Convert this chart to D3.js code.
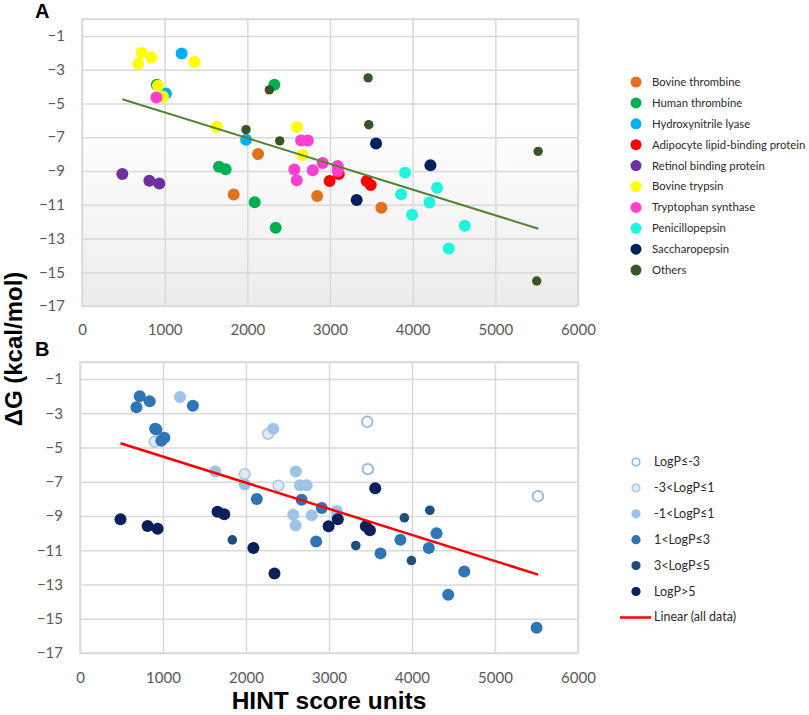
<!DOCTYPE html>
<html>
<head>
<meta charset="utf-8">
<script src="https://cdn.jsdelivr.net/npm/d3@7"></script>
<style>
  body { margin: 0; background: #fff; }
  svg { display: block; }
  .tick text { font-family: Lato, "Open Sans", sans-serif; fill: #595959; }
  .legend text { font-family: Lato, "Open Sans", sans-serif; fill: #2b2b2b; }
  .title { font-family: "Liberation Sans", Arial, sans-serif; font-weight: bold; fill: #000; }
</style>
</head>
<body>
<svg id="chart" width="809" height="715"></svg>
<script>
// tick values shared by both panels
const xTicks = [0, 1000, 2000, 3000, 4000, 5000, 6000];
const yTicks = [-17, -15, -13, -11, -9, -7, -5, -3, -1];

// panel A legend: protein groups
const proteinNames = [
  "Bovine thrombine", "Human thrombine", "Hydroxynitrile lyase",
  "Adipocyte lipid-binding protein", "Retinol binding protein", "Bovine trypsin",
  "Tryptophan synthase", "Penicillopepsin", "Saccharopepsin", "Others"
];
const proteinColors = [
  "#e2711d", "#00b050", "#00b0f0", "#ff0000", "#7030a0",
  "#ffff00", "#ff3fcf", "#1ef5dc", "#002060", "#375623"
];

// panel B legend: LogP classes
const logpLabels = ["LogP\u2264-3", "-3<LogP\u22641", "-1<LogP\u22641", "1<LogP\u22643", "3<LogP\u22645", "LogP>5"];
const logpFill = ["#ffffff", "#deebf7", "#9dc3e6", "#2e75b6", "#1f4e79", "#0a1f5c"];
const logpStroke = ["#8db6e2", "#a9c9ea", null, null, null, null];

// one entry per complex: HINT score, ΔG (kcal/mol), protein index, LogP class index
const hintScore = [
  2130, 1835, 2845, 3621,
  905, 2327, 1657, 1738, 2089, 2343,
  1205, 1016, 1985,
  2995, 3106, 3444, 3493,
  488, 815, 935,
  720, 680, 840, 1360, 920, 980, 1630, 2600, 2670,
  900, 2650, 2731, 2569, 2598, 2791, 2912, 3094, 3094,
  3908, 3860, 3993, 4203, 4296, 4630, 4436,
  4215, 3557, 3323,
  3461, 3469, 1984, 2392, 2266, 5518, 5501
];
const deltaG = [
  -8.0, -10.39, -10.49, -11.18,
  -3.9, -3.9, -8.75, -8.9, -10.86, -12.36,
  -2.05, -4.42, -7.15,
  -9.6, -9.18, -9.6, -9.83,
  -9.18, -9.58, -9.74,
  -2.0, -2.65, -2.3, -2.55, -3.95, -4.6, -6.4, -6.4, -8.05,
  -4.65, -7.2, -7.2, -8.92, -9.55, -8.96, -8.53, -8.7, -9.0,
  -9.1, -10.38, -11.6, -10.87, -10.0, -12.24, -13.6,
  -8.66, -7.38, -10.72,
  -3.49, -6.26, -6.55, -7.22, -4.2, -7.84, -15.52
];
const protein = [
  0, 0, 0, 0,
  1, 1, 1, 1, 1, 1,
  2, 2, 2,
  3, 3, 3, 3,
  4, 4, 4,
  5, 5, 5, 5, 5, 5, 5, 5, 5,
  6, 6, 6, 6, 6, 6, 6, 6, 6,
  7, 7, 7, 7, 7, 7, 7,
  8, 8, 8,
  9, 9, 9, 9, 9, 9, 9
];
const logpClass = [
  3, 4, 3, 3,
  3, 2, 5, 5, 5, 5,
  2, 3, 2,
  5, 5, 5, 5,
  5, 5, 5,
  3, 3, 3, 3, 3, 3, 2, 2, 3,
  1, 2, 2, 2, 2, 2, 3, 2, 2,
  4, 3, 4, 3, 3, 3, 3,
  4, 5, 4,
  0, 0, 1, 1, 1, 0, 3
];

// linear trend (all data), end points
const trendX = [488, 5520];
const trendY = [-4.75, -12.42];

const points = hintScore.map((x, i) => ({
  x, y: deltaG[i], protein: protein[i], logp: logpClass[i]
}));

const svg = d3.select("#chart");

const defs = svg.append("defs");
const grad = defs.append("linearGradient").attr("id", "bgA")
  .attr("x1", 0).attr("y1", 0).attr("x2", 0).attr("y2", 1);
grad.append("stop").attr("offset", "0%").attr("stop-color", "#ffffff");
grad.append("stop").attr("offset", "35%").attr("stop-color", "#ffffff");
grad.append("stop").attr("offset", "100%").attr("stop-color", "#ececec");

function drawFrame(x, y, bg, xPad) {
  const g = svg.append("g");
  const [l, r] = x.range();
  const [b, t] = y.range();
  g.append("rect").attr("x", l).attr("y", t).attr("width", r - l).attr("height", b - t)
    .attr("fill", bg);

  // gridlines
  g.append("g").attr("transform", `translate(${l},0)`)
    .call(d3.axisLeft(y).tickValues(yTicks.concat([0])).tickSize(-(r - l)).tickFormat(""))
    .call((s) => s.select(".domain").remove())
    .call((s) => s.selectAll("line").attr("stroke", "#d9d9d9").attr("stroke-width", 1.5));
  g.append("g").attr("transform", `translate(0,${b})`)
    .call(d3.axisBottom(x).tickValues(xTicks).tickSize(-(b - t)).tickFormat(""))
    .call((s) => s.select(".domain").remove())
    .call((s) => s.selectAll("line").attr("stroke", "#d9d9d9").attr("stroke-width", 1.5));

  // tick labels
  g.append("g").attr("transform", `translate(${l},0)`)
    .call(d3.axisLeft(y).tickValues(yTicks).tickSize(0).tickPadding(17))
    .call((s) => s.select(".domain").remove())
    .call((s) => s.selectAll("text").attr("font-size", 15));
  g.append("g").attr("transform", `translate(0,${b})`)
    .call(d3.axisBottom(x).tickValues(xTicks).tickSize(0).tickPadding(xPad).tickFormat(d3.format("d")))
    .call((s) => s.select(".domain").remove())
    .call((s) => s.selectAll("text").attr("font-size", 15));

  g.append("rect").attr("x", l).attr("y", t).attr("width", r - l).attr("height", b - t)
    .attr("fill", "none").attr("stroke", "#d9d9d9").attr("stroke-width", 1.5);
}

// ---- panel A ----
const xA = d3.scaleLinear().domain([0, 6000]).range([82, 578]);
const yA = d3.scaleLinear().domain([-17, 0]).range([306, 19]);
drawFrame(xA, yA, "url(#bgA)", 18);

svg.append("g").selectAll("circle")
  .data(d3.sort(points, (d) => d.protein))
  .join("circle")
  .attr("cx", (d) => xA(d.x))
  .attr("cy", (d) => yA(d.y))
  .attr("r", (d) => (d.protein === 9 ? 4.7 : 6))
  .attr("fill", (d) => proteinColors[d.protein]);

svg.append("line")
  .attr("x1", xA(trendX[0])).attr("y1", yA(trendY[0]))
  .attr("x2", xA(trendX[1])).attr("y2", yA(trendY[1]))
  .attr("stroke", "#548235").attr("stroke-width", 2);

const legA = svg.append("g").attr("class", "legend");
proteinNames.forEach((name, i) => {
  const yy = 82 + i * 20.9;
  legA.append("circle").attr("cx", 636).attr("cy", yy).attr("r", 5.5).attr("fill", proteinColors[i]);
  legA.append("text").attr("x", 652).attr("y", yy).attr("dy", "0.35em")
    .attr("font-size", 11.3).text(name);
});

// ---- panel B ----
const xB = d3.scaleLinear().domain([0, 6000]).range([80, 578]);
const yB = d3.scaleLinear().domain([-17, 0]).range([653, 362]);
drawFrame(xB, yB, "#ffffff", 19);

svg.append("g").selectAll("circle")
  .data(d3.sort(points, (d) => d.logp))
  .join("circle")
  .attr("cx", (d) => xB(d.x))
  .attr("cy", (d) => yB(d.y))
  .attr("r", (d) => (d.logp < 2 ? 5.3 : d.logp === 4 ? 4.8 : 6))
  .attr("fill", (d) => logpFill[d.logp])
  .attr("stroke", (d) => logpStroke[d.logp] || "none")
  .attr("stroke-width", 1.7);

svg.append("line")
  .attr("x1", xB(trendX[0])).attr("y1", yB(trendY[0]))
  .attr("x2", xB(trendX[1])).attr("y2", yB(trendY[1]))
  .attr("stroke", "#ff0000").attr("stroke-width", 2.5);

const legB = svg.append("g").attr("class", "legend");
logpLabels.forEach((name, i) => {
  const yy = 462 + i * 25.9;
  legB.append("circle").attr("cx", 636).attr("cy", yy).attr("r", i < 2 ? 3.8 : 4.6)
    .attr("fill", logpFill[i])
    .attr("stroke", logpStroke[i] || "none").attr("stroke-width", 1.6);
  legB.append("text").attr("x", 654).attr("y", yy).attr("dy", "0.35em")
    .attr("font-size", 12.5).text(name);
});
legB.append("line").attr("x1", 620).attr("x2", 651).attr("y1", 617.5).attr("y2", 617.5)
  .attr("stroke", "#ff0000").attr("stroke-width", 2.5);
legB.append("text").attr("x", 654).attr("y", 617).attr("dy", "0.35em")
  .attr("font-size", 12.5).text("Linear (all data)");

// ---- titles ----
svg.append("text").attr("class", "title").attr("x", 35).attr("y", 18).attr("font-size", 20).text("A");
svg.append("text").attr("class", "title").attr("x", 35).attr("y", 356).attr("font-size", 20).text("B");
svg.append("text").attr("class", "title")
  .attr("transform", "translate(22,349) rotate(-90)")
  .attr("text-anchor", "middle").attr("font-size", 24).text("\u0394G (kcal/mol)");
svg.append("text").attr("class", "title")
  .attr("x", 329).attr("y", 709).attr("text-anchor", "middle").attr("font-size", 24.5)
  .text("HINT score units");
</script>
</body>
</html>
